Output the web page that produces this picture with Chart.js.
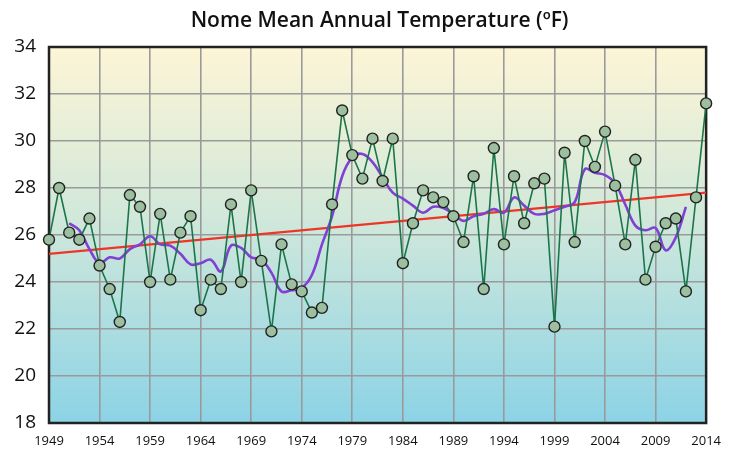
<!DOCTYPE html>
<html>
<head>
<meta charset="utf-8">
<script src="https://cdn.jsdelivr.net/npm/chart.js@4.4.1/dist/chart.umd.min.js"></script>
<style>
  html, body { margin: 0; padding: 0; background: #fff; }
  #wrap { width: 731px; height: 455px; }
</style>
</head>
<body>
<div id="wrap"><canvas id="nomeChart" width="731" height="455"></canvas></div>
<script>
// annual mean temperature, Nome (ºF)
const years = [1949, 1950, 1951, 1952, 1953, 1954, 1955, 1956, 1957, 1958, 1959,
  1960, 1961, 1962, 1963, 1964, 1965, 1966, 1967, 1968, 1969,
  1970, 1971, 1972, 1973, 1974, 1975, 1976, 1977, 1978, 1979,
  1980, 1981, 1982, 1983, 1984, 1985, 1986, 1987, 1988, 1989,
  1990, 1991, 1992, 1993, 1994, 1995, 1996, 1997, 1998, 1999,
  2000, 2001, 2002, 2003, 2004, 2005, 2006, 2007, 2008, 2009,
  2010, 2011, 2012, 2013, 2014];
const temps = [25.8, 28.0, 26.1, 25.8, 26.7, 24.7, 23.7, 22.3, 27.7, 27.2, 24.0,
  26.9, 24.1, 26.1, 26.8, 22.8, 24.1, 23.7, 27.3, 24.0, 27.9,
  24.9, 21.9, 25.6, 23.9, 23.6, 22.7, 22.9, 27.3, 31.3, 29.4,
  28.4, 30.1, 28.3, 30.1, 24.8, 26.5, 27.9, 27.6, 27.4, 26.8,
  25.7, 28.5, 23.7, 29.7, 25.6, 28.5, 26.5, 28.2, 28.4, 22.1,
  29.5, 25.7, 30.0, 28.9, 30.4, 28.1, 25.6, 29.2, 24.1, 25.5,
  26.5, 26.7, 23.6, 27.6, 31.6];

// smoothed curve (purple), 1951 - 2012
const smoothYears = [1951, 1952, 1953, 1954, 1955, 1956, 1957, 1958, 1959,
  1960, 1961, 1962, 1963, 1964, 1965, 1966, 1967, 1968, 1969,
  1970, 1971, 1972, 1973, 1974, 1975, 1976, 1977, 1978, 1979,
  1980, 1981, 1982, 1983, 1984, 1985, 1986, 1987, 1988, 1989,
  1990, 1991, 1992, 1993, 1994, 1995, 1996, 1997, 1998, 1999,
  2000, 2001, 2002, 2003, 2004, 2005, 2006, 2007, 2008, 2009,
  2010, 2011, 2012];
const smoothTemps = [26.5, 26.2, 25.4, 24.8, 25.05, 25.0, 25.4, 25.6, 25.95,
  25.6, 25.55, 25.2, 24.75, 24.8, 24.95, 24.45, 25.55, 25.45, 25.05,
  24.95, 24.4, 23.6, 23.65, 23.75, 24.3, 25.6, 26.8, 28.5, 29.3,
  29.45, 29.1, 28.45, 27.8, 27.55, 27.25, 26.95, 27.2, 27.15, 26.9,
  26.6, 26.8, 26.9, 27.1, 26.95, 27.6, 27.25, 26.9, 26.9, 27.05,
  27.2, 27.4, 28.8, 28.65, 28.55, 28.2, 27.3, 26.4, 26.2, 26.3,
  25.35, 25.9, 27.2];

// linear trend (red)
const trendYears = [1949, 2014];
const trendTemps = [25.2, 27.8];

const yTicks = [18, 20, 22, 24, 26, 28, 30, 32, 34];

const chartTitle = 'Nome Mean Annual Temperature (ºF)';

const toPoints = (xs, ys) => xs.map((x, i) => ({ x: x, y: ys[i] }));

const plotBackground = {
  id: 'plotBackground',
  beforeDraw(chart) {
    const { ctx, chartArea: { left, right, top, bottom } } = chart;
    const grad = ctx.createLinearGradient(0, top, 0, bottom);
    grad.addColorStop(0, '#fdf5d6');
    grad.addColorStop(0.45, '#d1e8da');
    grad.addColorStop(1, '#8cd3e6');
    ctx.save();
    ctx.fillStyle = grad;
    ctx.fillRect(left, top, right - left, bottom - top);
    ctx.restore();
  },
  beforeDatasetsDraw(chart) {
    const { ctx, chartArea: { left, right, top, bottom } } = chart;
    ctx.save();
    ctx.strokeStyle = '#222';
    ctx.lineWidth = 2.5;
    ctx.strokeRect(left, top, right - left, bottom - top);
    ctx.restore();
  },
  afterDraw(chart) {
    // title centred over the plot area, not the whole canvas
    const { ctx, chartArea: { left, right } } = chart;
    ctx.save();
    ctx.fillStyle = '#111';
    ctx.font = '600 21px "Open Sans"';
    ctx.textAlign = 'center';
    ctx.textBaseline = 'middle';
    ctx.fillText(chartTitle, (left + right) / 2 + 2, 21);
    ctx.restore();
  }
};

new Chart(document.getElementById('nomeChart'), {
  type: 'line',
  data: {
    datasets: [
      {
        label: 'Trend',
        data: toPoints(trendYears, trendTemps),
        borderColor: '#ee3526',
        borderWidth: 2.2,
        pointRadius: 0,
        order: 3
      },
      {
        label: 'Smoothed',
        data: toPoints(smoothYears, smoothTemps),
        borderColor: '#8140d4',
        borderWidth: 2.6,
        pointRadius: 0,
        tension: 0.4,
        order: 2
      },
      {
        label: 'Annual mean',
        data: toPoints(years, temps),
        borderColor: '#1c7549',
        borderWidth: 1.6,
        pointRadius: 5.5,
        pointBackgroundColor: '#9cbf9f',
        pointBorderColor: '#222',
        pointBorderWidth: 1.4,
        clip: false,
        order: 1
      }
    ]
  },
  options: {
    responsive: false,
    animation: false,
    events: [],
    layout: { padding: { left: 0, right: 22, top: 47, bottom: 0 } },
    scales: {
      x: {
        type: 'linear',
        min: 1949,
        max: 2014,
        afterFit: (axis) => { axis.height = 32; },
        ticks: {
          stepSize: 5,
          padding: 10,
          color: '#111',
          maxRotation: 0,
          font: { family: 'Open Sans', size: 13 },
          callback: (v) => String(v)
        },
        grid: { color: '#9a9a9a', lineWidth: 1.6, drawTicks: false },
        border: { display: false }
      },
      y: {
        min: 18,
        max: 34,
        afterFit: (axis) => { axis.width = 49; },
        afterBuildTicks: (axis) => { axis.ticks = yTicks.map(v => ({ value: v })); },
        ticks: {
          padding: 13,
          color: '#111',
          font: { family: 'Open Sans', size: 19 }
        },
        grid: { color: '#9a9a9a', lineWidth: 1.6, drawTicks: false },
        border: { display: false }
      }
    },
    plugins: {
      legend: { display: false },
      tooltip: { enabled: false },
      title: { display: false }
    }
  },
  plugins: [plotBackground]
});
</script>
</body>
</html>
